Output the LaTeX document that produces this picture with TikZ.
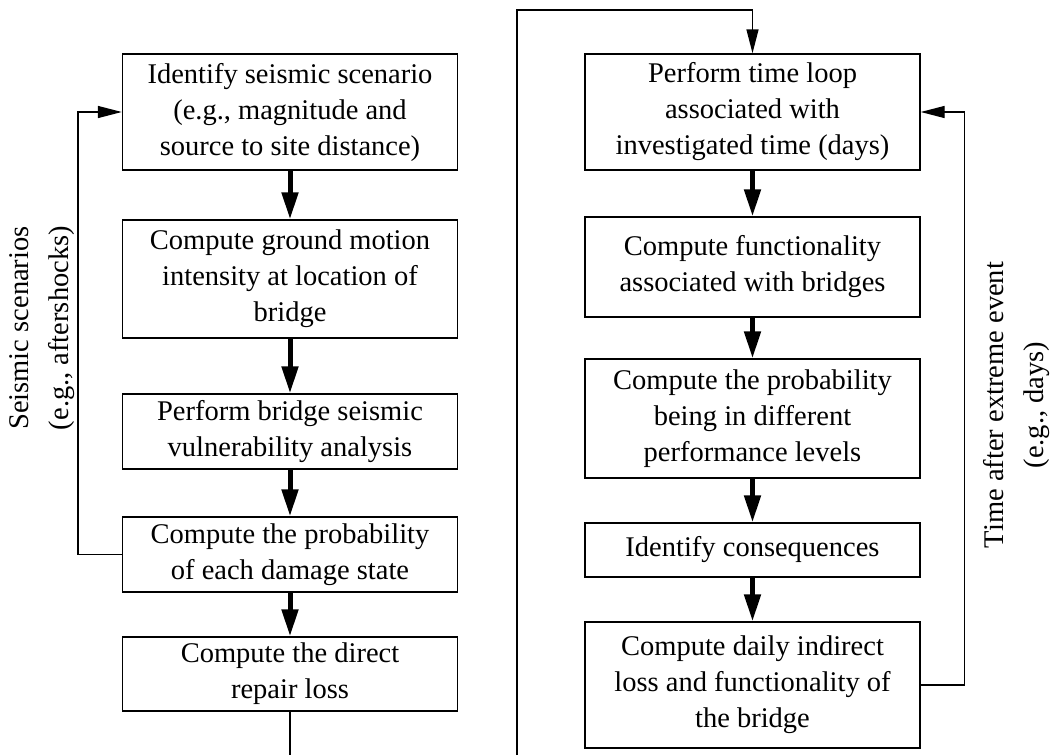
\documentclass[tikz,border=0pt]{standalone}
\usepackage{fontspec}
\setmainfont{Liberation Serif}
\usetikzlibrary{arrows.meta}

\begin{document}
\begin{tikzpicture}[x=1pt,y=-1pt,
    stage/.style={draw,line width=1.4pt,minimum width=335pt,inner sep=0pt,
      align=center,font=\fontsize{28.5}{36}\selectfont},
    flow/.style={line width=5pt,-{Triangle[length=27pt,width=16pt]}},
    loop/.style={line width=1.4pt,-{Triangle[length=24pt,width=12pt]}},
    side/.style={rotate=90,align=center,font=\fontsize{28.5}{40}\selectfont}]
    \useasboundingbox (0,0) rectangle (1060,755);
    % left column
    \node[stage,minimum height=116pt] (L1) at (290,112)
      {Identify seismic scenario\\(e.g., magnitude and\\source to site distance)};
    \node[stage,minimum height=118pt] (L2) at (290,279)
      {Compute ground motion\\intensity at location of\\bridge};
    \node[stage,minimum height=75pt] (L3) at (290,431.5)
      {Perform bridge seismic\\vulnerability analysis};
    \node[stage,minimum height=75pt] (L4) at (290,554.5)
      {Compute the probability\\of each damage state};
    \node[stage,minimum height=74pt] (L5) at (290,674)
      {Compute the direct\\repair loss};
    % right column
    \node[stage,minimum height=116pt] (R1) at (752.5,112)
      {Perform time loop\\associated with\\investigated time (days)};
    \node[stage,minimum height=100pt] (R2) at (752.5,267)
      {Compute functionality\\associated with bridges};
    \node[stage,minimum height=119pt] (R3) at (752.5,418.5)
      {Compute the probability\\being in different\\performance levels};
    \node[stage,minimum height=54pt] (R4) at (752.5,550)
      {Identify consequences};
    \node[stage,minimum height=126pt] (R5) at (752.5,685)
      {Compute daily indirect\\loss and functionality of\\the bridge};
    \node[side] (seis) at (42,328)
      {Seismic scenarios\\(e.g., aftershocks)};
    \node[side] (time) at (1017,405)
      {Time after extreme event\\(e.g., days)};
    \coordinate (outL) at (290,755);
    \coordinate (inR) at (517,755);
    \coordinate (top) at (517,10);
    \draw[flow] (L1) -- (L2);
    \draw[flow] (L2) -- (L3);
    \draw[flow] (L3) -- (L4);
    \draw[flow] (L4) -- (L5);
    \draw[flow] (R1) -- (R2);
    \draw[flow] (R2) -- (R3);
    \draw[flow] (R3) -- (R4);
    \draw[flow] (R4) -- (R5);
    \draw[loop] (L4.west) -- ++(-44,0) |- (L1.west);
    \draw[loop] (R5.east) -- ++(44,0) |- (R1.east);
    \draw[line width=1.4pt] (L5.south) -- (outL);
    \draw[loop] (inR) -- (top) -| (R1.north);
  \end{tikzpicture}
\end{document}
